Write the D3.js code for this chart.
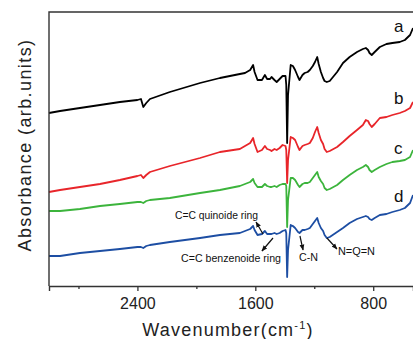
<!DOCTYPE html>
<html>
<head>
<meta charset="utf-8">
<script src="https://cdn.jsdelivr.net/npm/d3@7"></script>
<style>
  body { margin: 0; background: #fff; }
  svg { font-family: "Liberation Sans", Arial, sans-serif; }
</style>
</head>
<body>
<div id="chart"></div>
<script>
// wavenumber (cm-1) shared by all spectra
const wavenumber = [3000, 2925, 2790, 2654, 2519, 2400, 2376, 2360, 2340, 2315, 2180, 1975, 1840, 1705, 1670, 1635, 1615, 1605, 1585, 1555, 1535, 1520, 1500, 1490, 1470, 1455, 1435, 1415, 1395, 1390, 1384, 1378, 1360, 1345, 1330, 1310, 1300, 1280, 1265, 1245, 1230, 1210, 1195, 1180, 1170, 1155, 1140, 1130, 1115, 1095, 1045, 1005, 960, 910, 870, 850, 835, 825, 810, 790, 755, 710, 670, 620, 585, 550, 530];

// absorbance, arbitrary units (already offset per curve)
const seriesA = [173, 175, 178, 181, 184, 186, 187, 179, 183, 187, 194, 203, 208, 212, 213, 216, 221, 214, 206, 206, 211, 207, 207, 209, 206, 204, 207, 210, 210, 201, 143, 191, 221, 220, 216, 209, 206, 211, 213, 214, 216, 220, 224, 229, 222, 214, 208, 205, 204, 205, 214, 223, 229, 234, 237, 238, 236, 233, 231, 234, 239, 242, 243, 244, 246, 251, 258];
const seriesB = [94, 96, 99, 102, 106, 110, 111, 108, 111, 114, 120, 128, 134, 137, 140, 143, 148, 142, 134, 136, 140, 137, 136, 135, 137, 136, 138, 141, 140, 136, 103, 126, 149, 148, 146, 139, 136, 140, 141, 142, 143, 148, 154, 159, 153, 146, 142, 137, 134, 135, 139, 144, 150, 156, 161, 166, 165, 162, 159, 162, 168, 169, 171, 173, 175, 178, 184];
const seriesC = [75, 75, 77, 80, 82, 84, 84, 83, 85, 86, 88, 93, 96, 100, 102, 104, 107, 103, 99, 99, 102, 100, 99, 99, 100, 99, 101, 102, 102, 100, 59, 86, 108, 108, 106, 101, 99, 102, 103, 103, 104, 108, 111, 114, 109, 105, 102, 98, 96, 97, 101, 106, 111, 116, 119, 121, 119, 116, 114, 116, 119, 122, 124, 125, 126, 129, 136];
const seriesD = [30, 30, 33, 35, 37, 39, 39, 38, 40, 41, 44, 48, 51, 53, 55, 57, 60, 56, 51, 52, 55, 52, 52, 52, 53, 52, 53, 55, 56, 53, 9, 36, 61, 60, 58, 54, 53, 56, 56, 57, 58, 62, 65, 68, 63, 58, 55, 51, 48, 49, 54, 58, 63, 67, 69, 70, 69, 67, 66, 68, 71, 72, 74, 76, 78, 83, 91];

const seriesNames = ["a", "b", "c", "d"];
const seriesColors = ["#000000", "#e8252a", "#3cb43c", "#1d4ea3"];
// where the curve letters sit (wavenumber, absorbance)
const nameAt = [[659, 254], [659, 182], [659, 132], [659, 84]];

const majorTicks = [2400, 1600, 800];
const minorTicks = [2800, 2000, 1200];

// band annotations: label, text position, arrow tail (on curve d), arrow head
const noteText = ["C=C quinoide ring", "C=C benzenoide ring", "C-N", "N=Q=N"];
const notePos = [[2145, 67], [2104, 24], [1303, 25], [1039, 31]];
const noteWidth = [83, 100, 19, 37];
const noteTail = [[1548, 52], [1480, 48], [1297, 50], [1114, 48]];
const noteHead = [[1595, 64], [1555, 35], [1276, 36], [1046, 37]];

/** CONSTANTS */
let width = 413,
  height = 339,
  margin = { top: 12, bottom: 53, left: 49, right: 0 };

/** SCALES */
let xScale = d3.scaleLinear()
  .domain([3000, 530])
  .range([margin.left, width - margin.right]);

let yScale = d3.scaleLinear()
  .domain([0, 274])
  .range([height - margin.bottom, margin.top]);

let svg = d3.select("#chart")
  .append("svg")
  .attr("width", width)
  .attr("height", height);

svg.append("defs").append("marker")
  .attr("id", "head")
  .attr("viewBox", "0 0 10 10")
  .attr("refX", 9).attr("refY", 5)
  .attr("markerWidth", 5).attr("markerHeight", 5)
  .attr("orient", "auto")
  .append("path")
  .attr("d", "M0,1 L10,5 L0,9 Z")
  .attr("fill", "#111");

// curves
let allSeries = [seriesA, seriesB, seriesC, seriesD];
let line = d3.line()
  .x((d, i) => xScale(wavenumber[i]))
  .y(d => yScale(d));

svg.selectAll("path.spectrum")
  .data(allSeries)
  .join("path")
  .attr("class", "spectrum")
  .attr("d", line)
  .attr("fill", "none")
  .attr("stroke", (d, i) => seriesColors[i])
  .attr("stroke-width", 1.8)
  .attr("stroke-linejoin", "round");

// frame: left and top
svg.append("path")
  .attr("d", `M${xScale.range()[1]},${yScale(274)} H${xScale(3000)} V${yScale(0)}`)
  .attr("fill", "none")
  .attr("stroke", "#333")
  .attr("stroke-width", 1.4);

// x axis
let xAxis = d3.axisBottom(xScale).tickValues(majorTicks).tickSize(5).tickPadding(7).tickFormat(d3.format("d"));
let gx = svg.append("g")
  .attr("transform", `translate(0, ${yScale(0)})`)
  .call(xAxis);
gx.select(".domain").attr("stroke", "#333").attr("stroke-width", 1.4);
gx.selectAll(".tick line").attr("stroke", "#333").attr("stroke-width", 1.3);
gx.selectAll(".tick text")
  .attr("font-size", 16)
  .attr("font-family", "'Liberation Sans', Arial, sans-serif")
  .attr("fill", "#222");

let gxm = svg.append("g")
  .attr("transform", `translate(0, ${yScale(0)})`)
  .call(d3.axisBottom(xScale).tickValues(minorTicks).tickSize(3).tickFormat(""));
gxm.select(".domain").remove();
gxm.selectAll(".tick line").attr("stroke", "#333").attr("stroke-width", 1.3);

// axis titles
let xt = svg.append("text")
  .attr("x", 228)
  .attr("y", 336)
  .attr("text-anchor", "middle")
  .attr("font-size", 18)
  .attr("letter-spacing", 1.2)
  .attr("fill", "#222");
xt.append("tspan").text("Wavenumber(cm");
xt.append("tspan").text("-1").attr("font-size", 11).attr("dy", -7);
xt.append("tspan").text(")").attr("dy", 7);

svg.append("text")
  .attr("transform", `translate(31, 145) rotate(-90)`)
  .attr("text-anchor", "middle")
  .attr("font-size", 18)
  .attr("letter-spacing", 1.4)
  .attr("fill", "#222")
  .text("Absorbance (arb.units)");

// curve letters
svg.selectAll("text.name")
  .data(seriesNames)
  .join("text")
  .attr("class", "name")
  .attr("x", (d, i) => xScale(nameAt[i][0]))
  .attr("y", (d, i) => yScale(nameAt[i][1]))
  .attr("font-size", 17)
  .attr("fill", "#111")
  .text(d => d);

// annotations
svg.selectAll("line.arrow")
  .data(noteText)
  .join("line")
  .attr("class", "arrow")
  .attr("x1", (d, i) => xScale(noteTail[i][0]))
  .attr("y1", (d, i) => yScale(noteTail[i][1]))
  .attr("x2", (d, i) => xScale(noteHead[i][0]))
  .attr("y2", (d, i) => yScale(noteHead[i][1]))
  .attr("stroke", "#111")
  .attr("stroke-width", 1.2)
  .attr("marker-end", "url(#head)");

svg.selectAll("text.note")
  .data(noteText)
  .join("text")
  .attr("class", "note")
  .attr("x", (d, i) => xScale(notePos[i][0]))
  .attr("y", (d, i) => yScale(notePos[i][1]))
  .attr("font-size", 11.5)
  .attr("textLength", (d, i) => noteWidth[i])
  .attr("lengthAdjust", "spacingAndGlyphs")
  .attr("fill", "#111")
  .text(d => d);
</script>
</body>
</html>
